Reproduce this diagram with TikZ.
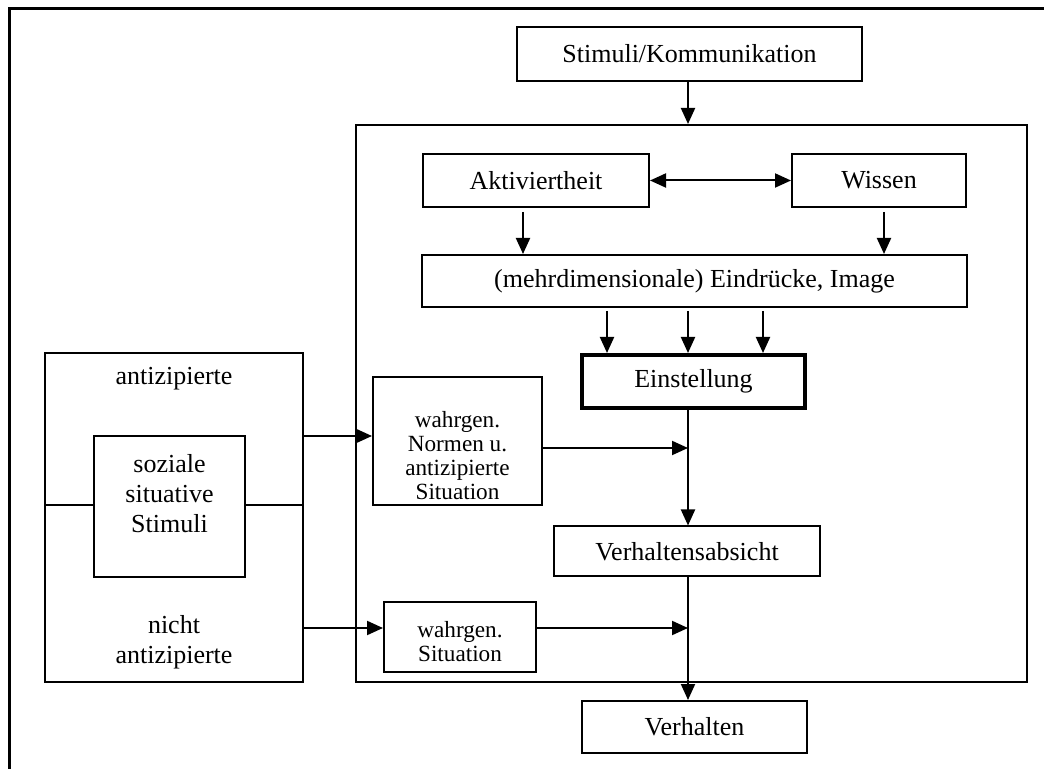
\documentclass[tikz,border=0pt]{standalone}
\usepackage{fontspec}
\setmainfont{Liberation Serif}
\usetikzlibrary{arrows.meta}

\begin{document}
\begin{tikzpicture}[x=0.5pt,y=-0.5pt,line width=1pt,inner sep=0pt,
	>={Triangle[length=8pt,width=7pt]},
	box/.style={rectangle,draw,align=center,font=\fontsize{13}{15}\selectfont},
	small/.style={align=center,font=\fontsize{11.6}{12}\selectfont},
	txt/.style={align=center,font=\fontsize{13}{15}\selectfont}]
	\useasboundingbox (0,0) rectangle (1044,769);
	% page frame
	\draw [line width=1.5pt] (9,769) -- (9,9) -- (1044,9);
	\node (stim) at (689.5,54) [box,minimum width=172.5pt,minimum height=27pt] {Stimuli/Kommunikation};
	\node (frame) at (691.5,403.5) [box,minimum width=335.5pt,minimum height=278.5pt] {};
	\node (akt) at (536,180.5) [box,minimum width=113pt,minimum height=26.5pt] {Aktiviertheit};
	\node (wis) at (879,180.5) [box,minimum width=87pt,minimum height=26.5pt] {Wissen};
	\node (eind) at (694.5,281) [box,minimum width=272.5pt,minimum height=26pt] {(mehrdimensionale) Eindrücke, Image};
	\node (einst) at (693.5,381.5) [box,line width=2pt,minimum width=111.5pt,minimum height=26.5pt] {Einstellung};
	\node (norm) at (457.5,441) [box,minimum width=84.5pt,minimum height=64pt] {};
	\node (normt) at (457.5,456) [small] {wahrgen.\\Normen u.\\antizipierte\\Situation};
	\node (absicht) at (687,551.5) [box,minimum width=133pt,minimum height=25pt] {Verhaltensabsicht};
	\node (sit) at (460,637) [box,minimum width=76pt,minimum height=35pt] {};
	\node (sitt) at (460,642) [small] {wahrgen.\\Situation};
	\node (verh) at (694.5,727) [box,minimum width=112.5pt,minimum height=26pt] {Verhalten};
	\node (left) at (174,517.5) [box,minimum width=129pt,minimum height=164.5pt] {};
	\node (soz) at (169.5,506.5) [box,minimum width=75.5pt,minimum height=70.5pt] {};
	\node (sozt) at (169.5,494) [txt] {soziale\\situative\\Stimuli};
	\node (ant) at (174,385) [txt,anchor=base] {antizipierte};
	\node (nant) at (174,642) [txt] {nicht\\antizipierte};
	\coordinate (m1) at (688,448);
	\coordinate (m2) at (688,628);
	\coordinate (r1) at (0,436);
	\coordinate (h1) at (0,505);
	\draw [->] (stim.south -| m1) -- (frame.north -| m1);
	\draw [<->] (akt) -- (wis);
	\draw [->] ([xshift=-6.5pt,yshift=-2pt]akt.south) -- ([xshift=-6.5pt]akt.south |- eind.north);
	\draw [->] ([xshift=2.5pt,yshift=-2pt]wis.south) -- ([xshift=2.5pt]wis.south |- eind.north);
	\foreach \dx in {-43.75,-3.25,34.25}
		\draw [->] ([xshift=\dx pt,yshift=-1.5pt]eind.south) -- ([xshift=\dx pt]eind.south |- einst.north);
	\draw [->] (einst.south -| m1) -- (absicht.north -| m1);
	\draw [->] (norm.east |- m1) -- (m1);
	\draw [->] (sit.east |- m2) -- (m2);
	\draw [->] (absicht.south -| m1) -- (verh.north -| m1);
	\draw [->] (left.east |- r1) -- (norm.west |- r1);
	\draw [->] (left.east |- m2) -- (sit.west |- m2);
	\draw (left.west |- h1) -- (soz.west |- h1) (soz.east |- h1) -- (left.east |- h1);
\end{tikzpicture}
\end{document}
